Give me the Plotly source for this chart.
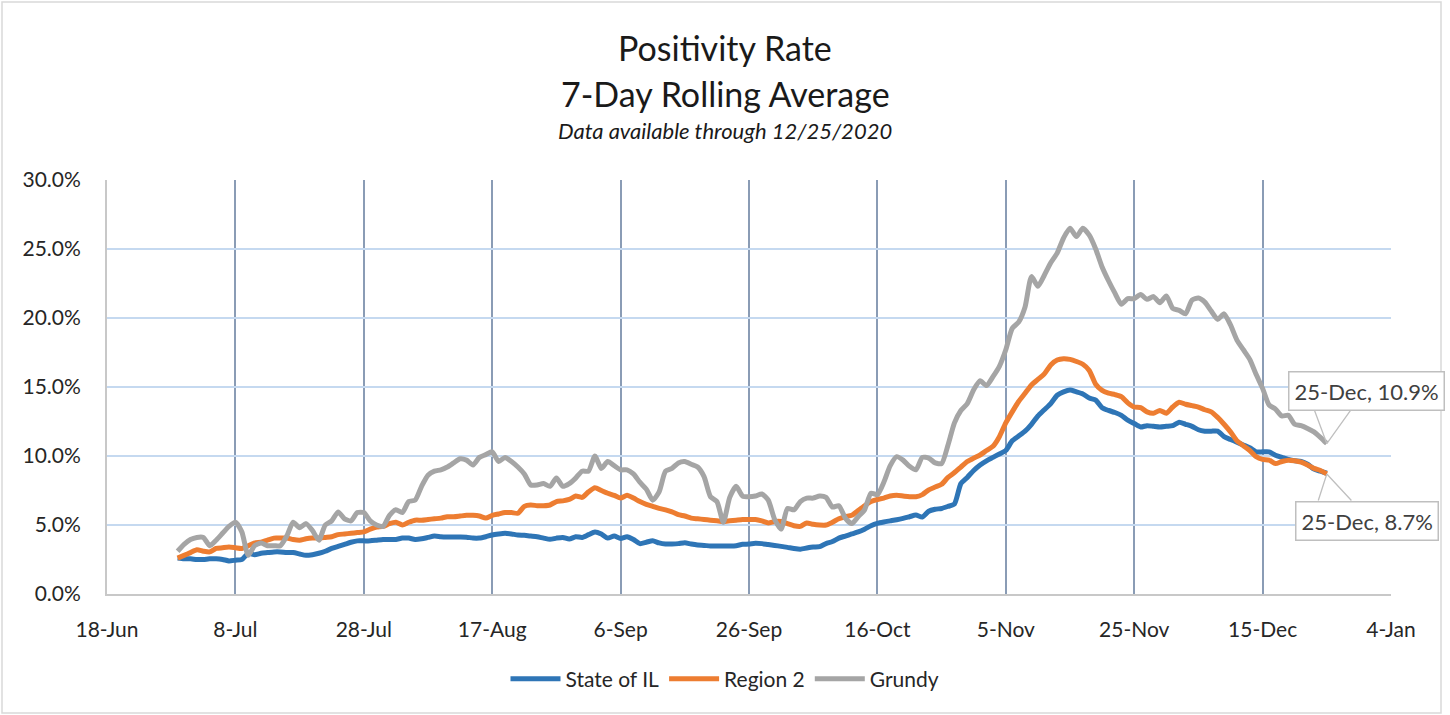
import pandas as pd
import plotly.graph_objects as go

# daily 7-day rolling positivity rate (%), 29-Jun-2020 .. 25-Dec-2020
dates = pd.date_range("2020-06-29", "2020-12-25", freq="D")

state_il = [
    2.6, 2.55, 2.55, 2.5, 2.5, 2.55, 2.55, 2.5, 2.4, 2.45,
    2.5, 2.95, 2.85, 2.95, 3.0, 3.05, 3.05, 3.0, 3.0, 2.9,
    2.8, 2.85, 2.95, 3.1, 3.3, 3.45, 3.6, 3.75, 3.85, 3.85,
    3.85, 3.9, 3.95, 3.95, 3.95, 4.05, 4.05, 3.95, 4.0, 4.1,
    4.2, 4.15, 4.13, 4.13, 4.13, 4.12, 4.05, 4.05, 4.15, 4.28,
    4.35, 4.4, 4.35, 4.28, 4.25, 4.2, 4.15, 4.05, 3.96, 4.05,
    4.1, 3.98, 4.15, 4.1, 4.3, 4.5, 4.35, 4.05, 4.2, 4.03,
    4.15, 3.95, 3.65, 3.75, 3.86, 3.7, 3.62, 3.62, 3.65, 3.72,
    3.62, 3.55, 3.52, 3.48, 3.48, 3.48, 3.48, 3.5, 3.6, 3.62,
    3.68, 3.65, 3.58, 3.52, 3.45, 3.38, 3.3, 3.25, 3.33, 3.4,
    3.43, 3.65, 3.8, 4.05, 4.2, 4.35, 4.5, 4.7, 4.95, 5.12,
    5.22, 5.3, 5.38, 5.48, 5.6, 5.72, 5.58, 6.0, 6.14, 6.2,
    6.35, 6.52, 8.0, 8.45, 8.95, 9.35, 9.65, 9.9, 10.15, 10.4,
    11.1, 11.45, 11.8, 12.3, 12.9, 13.35, 13.8, 14.4, 14.65, 14.78,
    14.65, 14.5, 14.2, 14.05, 13.5, 13.3, 13.15, 12.95, 12.6, 12.35,
    12.1, 12.2, 12.15, 12.1, 12.15, 12.2, 12.45, 12.3, 12.15, 11.9,
    11.8, 11.8, 11.8, 11.4, 11.2, 11.0, 10.8, 10.6, 10.3, 10.3,
    10.3, 10.05, 9.9, 9.75, 9.65, 9.6, 9.4, 9.05, 8.9, 8.75,
]

region_2 = [
    2.6, 2.8, 3.0, 3.2, 3.1, 3.05, 3.3, 3.35, 3.4, 3.35,
    3.3, 3.5, 3.7, 3.75, 3.9, 4.05, 4.05, 4.05, 3.95, 3.9,
    4.0, 4.05, 4.05, 4.1, 4.15, 4.3, 4.35, 4.4, 4.45, 4.5,
    4.7, 4.85, 4.9, 5.1, 5.2, 5.0, 5.2, 5.35, 5.35, 5.4,
    5.45, 5.5, 5.6, 5.6, 5.65, 5.7, 5.7, 5.65, 5.5, 5.7,
    5.8, 5.9, 5.9, 5.85, 6.35, 6.45, 6.4, 6.4, 6.45, 6.7,
    6.75, 6.85, 7.1, 7.0, 7.4, 7.7, 7.5, 7.3, 7.15, 6.95,
    7.15, 6.95, 6.7, 6.5, 6.35, 6.2, 6.1, 5.95, 5.75, 5.65,
    5.5, 5.45, 5.4, 5.35, 5.3, 5.25, 5.3, 5.35, 5.4, 5.4,
    5.4, 5.3, 5.15, 5.25, 5.25, 5.1, 4.95, 4.9, 5.15, 5.05,
    5.0, 5.0, 5.2, 5.45, 5.6, 5.7, 6.05, 6.4, 6.7, 6.85,
    6.95, 7.1, 7.15, 7.1, 7.05, 7.05, 7.2, 7.55, 7.75, 7.95,
    8.45, 8.8, 9.2, 9.6, 9.85, 10.07, 10.4, 10.7, 11.4, 12.4,
    13.2, 13.95, 14.55, 15.15, 15.55, 15.95, 16.6, 16.95, 17.05, 17.0,
    16.85, 16.65, 16.2, 15.2, 14.75, 14.55, 14.45, 14.3, 13.85, 13.55,
    13.5, 13.2, 13.1, 13.3, 13.1, 13.55, 13.9, 13.75, 13.65, 13.55,
    13.35, 13.2, 12.8, 12.3, 11.75, 11.1, 10.75, 10.4, 9.95, 9.75,
    9.7, 9.45, 9.6, 9.7, 9.65, 9.55, 9.35, 9.1, 8.95, 8.7,
]

grundy = [
    3.1, 3.6, 3.95, 4.1, 4.1, 3.5, 3.9, 4.4, 4.9, 5.2,
    4.5, 2.8, 3.5, 3.7, 3.5, 3.5, 3.5, 4.2, 5.2, 4.8,
    5.1, 4.6, 3.9, 5.0, 5.3, 5.95, 5.45, 5.3, 5.9, 5.9,
    5.3, 5.0, 4.9, 5.7, 6.1, 5.9, 6.7, 6.8, 7.8, 8.6,
    8.9, 9.0, 9.2, 9.5, 9.8, 9.7, 9.35, 9.9, 10.1, 10.3,
    9.6, 9.9, 9.6, 9.2, 8.7, 7.9, 7.9, 8.0, 7.8, 8.4,
    7.8, 8.0, 8.4, 8.9, 8.9, 10.0, 9.1, 9.6, 9.3, 9.0,
    9.0, 8.7, 8.1, 7.6, 6.8, 7.4, 8.9, 9.1, 9.5, 9.6,
    9.4, 9.2, 8.5, 7.05, 6.7, 5.2, 7.0, 7.8, 7.1, 7.05,
    7.1, 7.25, 6.8, 5.4, 4.7, 6.2, 6.1, 6.7, 6.95, 6.95,
    7.1, 7.0, 6.3, 6.4, 5.5, 5.1, 5.6, 6.1, 7.3, 7.2,
    8.1, 9.3, 9.95, 9.7, 9.25, 9.0, 9.9, 9.85, 9.5, 9.45,
    10.8, 12.4, 13.3, 13.8, 14.8, 15.45, 15.1, 15.75, 16.5, 17.7,
    19.25, 19.7, 20.8, 23.0, 22.3, 23.1, 24.0, 24.7, 25.8, 26.5,
    25.9, 26.5, 26.0, 25.0, 23.7, 22.7, 21.8, 21.0, 21.4, 21.4,
    21.7, 21.35, 21.55, 21.1, 21.6, 20.7, 20.55, 20.3, 21.3, 21.45,
    21.15, 20.5, 19.9, 20.3, 19.5, 18.4, 17.7, 17.0, 15.9, 14.9,
    13.7, 13.4, 12.9, 12.95, 12.3, 12.2, 12.0, 11.75, 11.35, 10.9,
]

series = [
    ("State of IL", state_il, "#2E75B6"),
    ("Region 2", region_2, "#ED7D31"),
    ("Grundy", grundy, "#A5A5A5"),
]

W, H = 1450, 715
ML, MR, MT, MB = 107, 59, 180, 121
PW, PH = W - ML - MR, H - MT - MB
FONT = "Lato, 'Open Sans', sans-serif"


def paper_x(px):
    return (px - ML) / PW


def paper_y(py):
    return (H - MB - py) / PH


fig = go.Figure()

for name, vals, color in series:
    fig.add_trace(go.Scatter(
        x=dates, y=vals, name=name, mode="lines",
        line=dict(color=color, width=5, shape="spline", smoothing=0.6),
    ))

# title block
titles = [
    ("Positivity Rate", 48, 34, False),
    ("7-Day Rolling Average", 94, 34, False),
    ("Data available through 12/25/2020", 131, 22, True),
]
for txt, py, size, ital in titles:
    fig.add_annotation(
        text=f"<i>{txt}</i>" if ital else txt,
        xref="paper", yref="paper", x=paper_x(725), y=paper_y(py),
        xanchor="center", yanchor="middle", showarrow=False,
        font=dict(size=size, color="#1a1a1a", family=FONT),
    )

# data labels on last point, with callout wedge
last_day = dates[-1]
callouts = [
    (grundy[-1], 40, 53, [(-13, -35), (25, -35)]),
    (region_2[-1], 40, -47, [(-9, 28), (26, 28)]),
]
for val, xs, ys, legs in callouts:
    for ax, ay in legs:
        fig.add_annotation(
            x=last_day, y=val, text="", showarrow=True, arrowhead=0,
            arrowwidth=1.3, arrowcolor="#BFBFBF", ax=ax, ay=ay, standoff=0,
        )
    fig.add_annotation(
        x=last_day, y=val, text=f"{last_day.day}-{last_day:%b}, {val:.1f}%",
        showarrow=False, xshift=xs, yshift=ys,
        bgcolor="white", bordercolor="#BFBFBF", borderwidth=1.5, borderpad=5,
        font=dict(size=22, color="#404040", family=FONT),
    )

# chart area frame
fig.add_shape(
    type="rect", xref="paper", yref="paper",
    x0=paper_x(2), x1=paper_x(1441), y0=paper_y(713), y1=paper_y(2),
    line=dict(color="#D9D9D9", width=1.5), fillcolor="rgba(0,0,0,0)", layer="below",
)

fig.update_layout(
    width=W, height=H, autosize=False,
    margin=dict(l=ML, r=MR, t=MT, b=MB),
    paper_bgcolor="white", plot_bgcolor="white",
    font=dict(family=FONT, size=21, color="#262626"),
    showlegend=True,
    legend=dict(
        orientation="h", x=paper_x(725), xanchor="center",
        y=paper_y(679), yanchor="middle",
        font=dict(size=21, color="#262626"), itemwidth=50,
    ),
    xaxis=dict(
        range=["2020-06-18", "2021-01-04"],
        tick0="2020-06-18", dtick=20 * 86400000, tickformat="%-d-%b",
        showgrid=True, gridcolor="#8A9CB5", gridwidth=1.5,
        showline=True, linecolor="#C8C8C8", linewidth=2,
        ticks="", ticklabelstandoff=16, zeroline=False,
    ),
    yaxis=dict(
        range=[0, 30], dtick=5, tickformat=".1f", ticksuffix="%",
        showgrid=True, gridcolor="#C5D9F0", gridwidth=1.5,
        showline=True, linecolor="#C8C8C8", linewidth=2,
        ticks="", ticklabelstandoff=20, zeroline=False,
    ),
)

fig.write_html(
    "out.html",
    config={"displayModeBar": False},
    post_script="document.body.style.margin='0';",
)
